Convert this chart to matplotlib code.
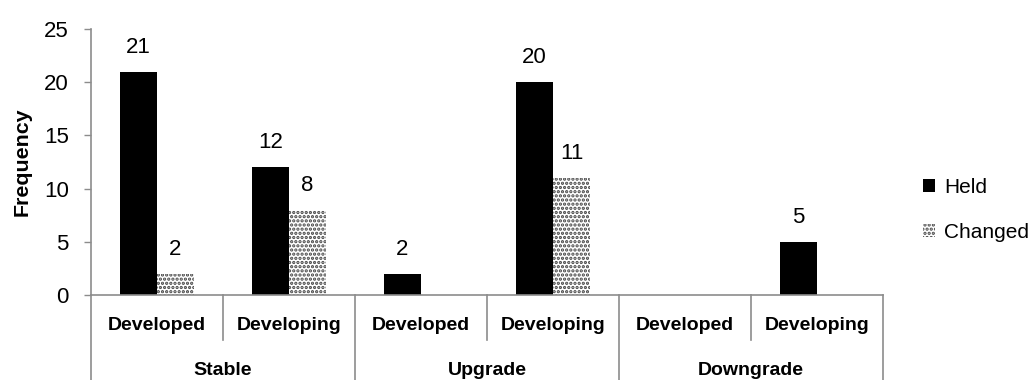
import numpy as np
import matplotlib.pyplot as plt

plt.rcParams['font.family'] = ['Liberation Sans', 'DejaVu Sans']
plt.rcParams['hatch.linewidth'] = 1.6

groups = ['Stable', 'Upgrade', 'Downgrade']
subgroups = ['Developed', 'Developing']
held = [21, 12, 2, 20, 0, 5]
changed = [2, 8, 0, 11, 0, 0]

axis_grey = '#8c8c8c'
fs = 16

fig = plt.figure(figsize=(10.32, 3.8), dpi=100)
ax = fig.add_axes([0.0882, 0.2237, 0.7674, 0.7])

x = np.arange(len(held)) + 0.5
w = 0.28
ax.bar(x - w / 2, held, w, color='black', label='Held')
ax.bar(x + w / 2, changed, w, color='white', edgecolor='#444444', hatch='....',
       linewidth=0, label='Changed')

# value labels only for non-empty bars
for xi, v in zip(x - w / 2, held):
    if v:
        ax.text(xi, v + 1.3, str(v), ha='center', va='bottom', fontsize=fs)
for xi, v in zip(x + w / 2, changed):
    if v:
        ax.text(xi, v + 1.3, str(v), ha='center', va='bottom', fontsize=fs)

ax.set_xlim(0, 6)
ax.set_ylim(0, 25)
ax.set_yticks(range(0, 26, 5))
ax.tick_params(axis='y', length=5, width=1, color=axis_grey, pad=11, labelsize=fs)
ax.set_xticks([])
for s in ['top', 'right']:
    ax.spines[s].set_visible(False)
for s in ['left', 'bottom']:
    ax.spines[s].set_color(axis_grey)
    ax.spines[s].set_linewidth(1.2)

ax.set_ylabel('Frequency', fontsize=15.4, fontweight='bold', labelpad=9)

# two-level category axis below the plot
tr = ax.get_xaxis_transform()
for i in range(7):
    bottom = -0.17 if i % 2 else -0.33
    ax.plot([i, i], [0, bottom], color=axis_grey, lw=1.2, transform=tr, clip_on=False)
for i, xi in enumerate(x):
    ax.text(xi, -0.113, subgroups[i % 2], transform=tr, ha='center', va='center',
            fontsize=14, fontweight='bold')
for j, g in enumerate(groups):
    ax.text(2 * j + 1, -0.282, g, transform=tr, ha='center', va='center',
            fontsize=14, fontweight='bold')

ax.legend(loc='center left', bbox_to_anchor=(1.0505, 0.32), frameon=False, fontsize=15,
          borderaxespad=0, borderpad=0, handlelength=0.6, handleheight=0.6,
          handletextpad=0.4, labelspacing=1.25)

fig.savefig('out.png', dpi=100)
